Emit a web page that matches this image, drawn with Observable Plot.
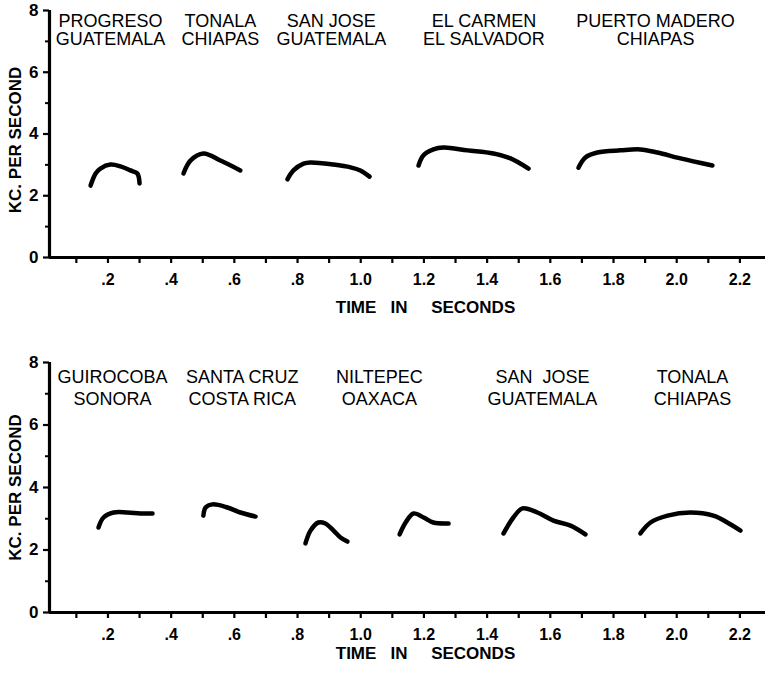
<!DOCTYPE html>
<html><head><meta charset="utf-8">
<script src="https://cdn.jsdelivr.net/npm/d3@7"></script>
<script src="https://cdn.jsdelivr.net/npm/@observablehq/plot@0.6"></script>
<style>
body{margin:0;background:#fff;}
#chart{width:765px;}
#chart svg{display:block;}
</style></head><body><div id="chart"></div>
<script>
// ---- axis ticks ----
const yTicksMajor = [0, 2, 4, 6, 8];
const yTicksMinor = [1, 3, 5, 7];
const xTicksAll = [0.1,0.2,0.3,0.4,0.5,0.6,0.7,0.8,0.9,1.0,1.1,1.2,1.3,1.4,1.5,1.6,1.7,1.8,1.9,2.0,2.1,2.2];
const xTicksLabeled = [0.2,0.4,0.6,0.8,1.0,1.2,1.4,1.6,1.8,2.0,2.2];
const xDomain = [0.015, 2.281];
const yDomain = [0, 8];
const yTitle = "KC. PER SECOND";
const xTitle = "TIME\u00a0\u00a0\u00a0IN\u00a0\u00a0\u00a0\u00a0\u00a0SECONDS";

// ---- top panel ----
const topNames = ["PROGRESO\nGUATEMALA", "TONALA\nCHIAPAS", "SAN JOSE\nGUATEMALA", "EL CARMEN\nEL SALVADOR", "PUERTO MADERO\nCHIAPAS"];
const topNameTime = [0.208, 0.556, 0.907, 1.39, 1.933];
const progresoTime = [0.145, 0.161, 0.176, 0.208, 0.240, 0.271, 0.293, 0.300];
const progresoKc   = [2.33, 2.72, 2.88, 3.01, 2.95, 2.82, 2.72, 2.40];
const tonalaTime = [0.439, 0.461, 0.502, 0.556, 0.619];
const tonalaKc   = [2.72, 3.14, 3.37, 3.14, 2.82];
const sanJoseTime = [0.768, 0.787, 0.819, 0.841, 0.914, 0.968, 0.999, 1.028];
const sanJoseKc   = [2.53, 2.82, 3.04, 3.08, 3.01, 2.92, 2.82, 2.62];
const elCarmenTime = [1.183, 1.198, 1.230, 1.262, 1.338, 1.420, 1.474, 1.531];
const elCarmenKc   = [2.98, 3.30, 3.50, 3.56, 3.47, 3.37, 3.21, 2.88];
const puertoMaderoTime = [1.689, 1.711, 1.749, 1.822, 1.885, 1.939, 2.012, 2.113];
const puertoMaderoKc   = [2.91, 3.24, 3.40, 3.47, 3.50, 3.40, 3.21, 2.98];

// ---- bottom panel ----
const bottomNames = ["GUIROCOBA\nSONORA", "SANTA CRUZ\nCOSTA RICA", "NILTEPEC\nOAXACA", "SAN\u00a0 JOSE\nGUATEMALA", "TONALA\nCHIAPAS"];
const bottomNameTime = [0.214, 0.625, 1.059, 1.575, 2.05];
const guirocobaTime = [0.170, 0.186, 0.218, 0.262, 0.303, 0.341];
const guirocobaKc   = [2.72, 3.04, 3.20, 3.20, 3.17, 3.17];
const santaCruzTime = [0.502, 0.509, 0.531, 0.578, 0.619, 0.667];
const santaCruzKc   = [3.10, 3.36, 3.46, 3.36, 3.20, 3.07];
const niltepecATime = [0.825, 0.841, 0.866, 0.888, 0.914, 0.936, 0.958];
const niltepecAKc   = [2.21, 2.62, 2.88, 2.85, 2.62, 2.40, 2.27];
const niltepecBTime = [1.123, 1.142, 1.167, 1.199, 1.230, 1.278];
const niltepecBKc   = [2.50, 2.88, 3.17, 3.04, 2.88, 2.85];
const sanJoseBTime = [1.452, 1.483, 1.512, 1.559, 1.610, 1.664, 1.711];
const sanJoseBKc   = [2.53, 3.04, 3.33, 3.20, 2.94, 2.78, 2.50];
const tonalaBTime = [1.885, 1.917, 1.971, 2.043, 2.116, 2.160, 2.202];
const tonalaBKc   = [2.53, 2.88, 3.10, 3.20, 3.10, 2.88, 2.62];

function table(id, ts, ks) { return ts.map((t, i) => ({id, t, kc: ks[i]})); }
const fmt = d => d < 1 ? d.toFixed(1).slice(1) : d.toFixed(1);
const FONT = "'Liberation Sans', Arial, Helvetica, sans-serif";

function panel({height, marginTop, marginBottom, curves, names, nameTimes, nameDy, lineHeight, yTitleDy, yTitleSpacing, xTitleDy}) {
  const data = curves.flat();
  return Plot.plot({
    width: 765, height, marginTop, marginBottom, marginLeft: 49, marginRight: 0,
    style: {fontFamily: FONT, color: "#000", background: "#fff"},
    x: {domain: xDomain, axis: null},
    y: {domain: yDomain, axis: null},
    marks: [
      Plot.ruleY([yDomain[0]], {strokeWidth: 3.2}),
      Plot.ruleX([xDomain[0]], {y1: yDomain[0], y2: yDomain[1], strokeWidth: 3.2}),
      Plot.axisX(xTicksAll, {tickSize: 6, strokeWidth: 2.2, tickFormat: () => "", label: null}),
      Plot.axisX(xTicksLabeled, {tickSize: 0, tickPadding: 16, tickFormat: fmt, fontSize: 16, fontWeight: "bold", label: null}),
      Plot.axisY(yTicksMajor, {tickSize: 6, strokeWidth: 2.2, tickPadding: 5, fontSize: 17, fontWeight: "bold", label: null}),
      Plot.axisY(yTicksMinor, {tickSize: 4, strokeWidth: 2, tickFormat: () => "", label: null}),
      Plot.line(data, {x: "t", y: "kc", z: "id", curve: "catmull-rom", stroke: "#000", strokeWidth: 4.5, strokeLinecap: "round", strokeLinejoin: "round"}),
      Plot.text(names, {x: nameTimes, text: names, frameAnchor: "top", lineAnchor: "top", dy: nameDy, lineHeight, fontSize: 18, fill: "#000"}),
      Plot.text([yTitle], {frameAnchor: "left", textAnchor: "middle", lineAnchor: "middle", rotate: -90, dx: -34, dy: yTitleDy, fontSize: 17, fontWeight: "bold", style: `letter-spacing:${yTitleSpacing}px`}),
      Plot.text([xTitle], {frameAnchor: "bottom", lineAnchor: "middle", dx: 18, dy: xTitleDy, fontSize: 17, fontWeight: "bold"})
    ]
  });
}

const topPanel = panel({
  height: 335, marginTop: 10, marginBottom: 78,
  curves: [
    table("progreso", progresoTime, progresoKc),
    table("tonala", tonalaTime, tonalaKc),
    table("sanjose", sanJoseTime, sanJoseKc),
    table("elcarmen", elCarmenTime, elCarmenKc),
    table("puertomadero", puertoMaderoTime, puertoMaderoKc)
  ],
  names: topNames, nameTimes: topNameTime, nameDy: 3, lineHeight: 1.03,
  yTitleDy: 6, yTitleSpacing: 2, xTitleDy: 50
});
const bottomPanel = panel({
  height: 338, marginTop: 27, marginBottom: 61,
  curves: [
    table("guirocoba", guirocobaTime, guirocobaKc),
    table("santacruz", santaCruzTime, santaCruzKc),
    table("niltepecA", niltepecATime, niltepecAKc),
    table("niltepecB", niltepecBTime, niltepecBKc),
    table("sanjoseB", sanJoseBTime, sanJoseBKc),
    table("tonalaB", tonalaBTime, tonalaBKc)
  ],
  names: bottomNames, nameTimes: bottomNameTime, nameDy: 6, lineHeight: 1.17,
  yTitleDy: 0, yTitleSpacing: 0, xTitleDy: 41
});
const chart = document.getElementById("chart");
chart.appendChild(topPanel);
chart.appendChild(bottomPanel);
</script>
</body></html>
